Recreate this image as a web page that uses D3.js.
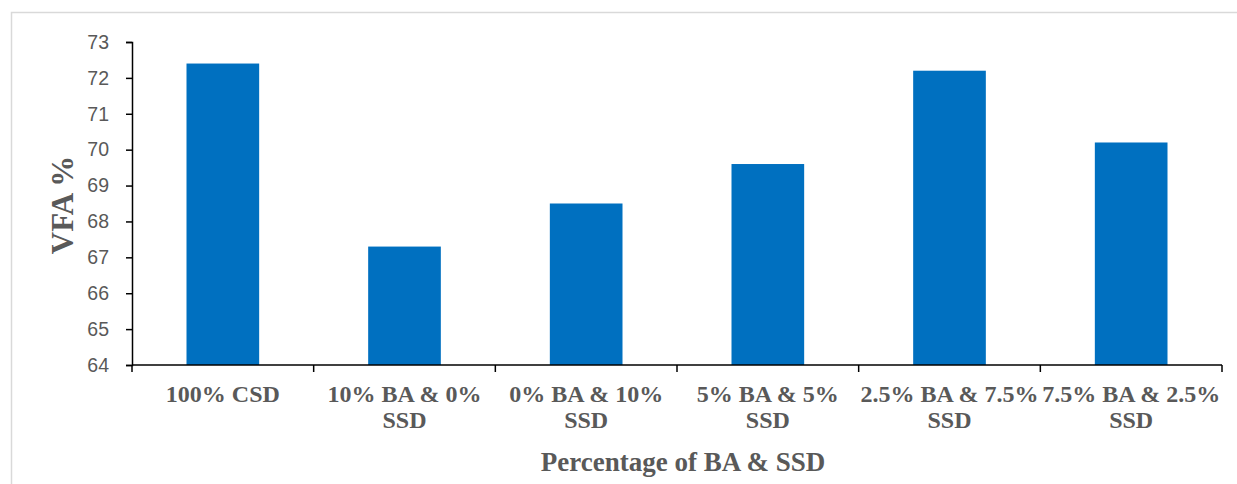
<!DOCTYPE html>
<html>
<head>
<meta charset="utf-8">
<script src="https://cdn.jsdelivr.net/npm/d3@7"></script>
<style>
  html, body { margin: 0; padding: 0; background: #fff; }
  svg { display: block; }
</style>
</head>
<body>
<svg id="chart" width="1237" height="484"></svg>
<script>
// Mix designs on the x axis (each entry holds the label lines)
const categories = [
  ["100% CSD"],
  ["10% BA & 0%", "SSD"],
  ["0% BA & 10%", "SSD"],
  ["5% BA & 5%", "SSD"],
  ["2.5% BA & 7.5%", "SSD"],
  ["7.5% BA & 2.5%", "SSD"]
];
// VFA (%) per mix
const vfaValues = [72.4, 67.3, 68.5, 69.6, 72.2, 70.2];
// Y axis ticks
const yTicks = [64, 65, 66, 67, 68, 69, 70, 71, 72, 73];
const yTitle = "VFA %";
const xTitle = "Percentage of BA & SSD";

const svg = d3.select("#chart");
const margin = { left: 132, right: 15, top: 42, bottom: 119 };
const W = 1237, H = 484;

// outer frame
svg.append("rect")
  .attr("x", 11.5).attr("y", 12.5)
  .attr("width", 1240).attr("height", 490)
  .attr("fill", "#fff").attr("stroke", "#d9d9d9").attr("stroke-width", 1.5);

const keys = categories.map(c => c.join(" "));
const x = d3.scaleBand()
  .domain(keys)
  .range([margin.left, W - margin.right])
  .paddingInner(0.6)
  .paddingOuter(0.3);

const y = d3.scaleLinear()
  .domain([64, 73])
  .range([H - margin.bottom, margin.top]);

// bars
svg.append("g").selectAll("rect")
  .data(vfaValues)
  .join("rect")
  .attr("x", (d, i) => x(keys[i]))
  .attr("y", d => y(d))
  .attr("width", x.bandwidth())
  .attr("height", d => y(64) - y(d))
  .attr("fill", "#0070C0");

// y axis
const yAxis = svg.append("g")
  .attr("transform", `translate(${margin.left},0)`)
  .call(d3.axisLeft(y).tickValues(yTicks).tickSize(6).tickPadding(17).tickSizeOuter(6));
yAxis.select(".domain").attr("stroke", "#000").attr("stroke-width", 1.5);
yAxis.selectAll(".tick line").attr("stroke", "#000").attr("stroke-width", 1.5);
yAxis.selectAll(".tick text")
  .attr("font-family", "'Liberation Sans', Arial, sans-serif")
  .attr("font-size", 19.5)
  .attr("fill", "#595959");

// x axis baseline with boundary ticks between categories
const step = x.step();
const boundaries = d3.range(categories.length + 1).map(i => margin.left + i * step);
const xAxisG = svg.append("g");
xAxisG.append("line")
  .attr("x1", margin.left).attr("x2", boundaries[boundaries.length - 1])
  .attr("y1", y(64)).attr("y2", y(64))
  .attr("stroke", "#000").attr("stroke-width", 1.5);
xAxisG.selectAll("line.tk")
  .data(boundaries)
  .join("line")
  .attr("class", "tk")
  .attr("x1", d => d).attr("x2", d => d)
  .attr("y1", y(64)).attr("y2", y(64) + 7)
  .attr("stroke", "#000").attr("stroke-width", 1.5);

// category labels
const labels = svg.append("g")
  .attr("font-family", "'Liberation Serif', 'Times New Roman', serif")
  .attr("font-weight", "bold")
  .attr("font-size", 24)
  .attr("fill", "#595959")
  .attr("text-anchor", "middle");
categories.forEach((lines, i) => {
  const cx = x(keys[i]) + x.bandwidth() / 2;
  const t = labels.append("text").attr("x", cx).attr("y", 402);
  lines.forEach((ln, j) => {
    t.append("tspan").attr("x", cx).attr("dy", j === 0 ? 0 : 26).text(ln);
  });
});

// axis titles
svg.append("text")
  .attr("x", 683).attr("y", 471)
  .attr("text-anchor", "middle")
  .attr("font-family", "'Liberation Serif', 'Times New Roman', serif")
  .attr("font-weight", "bold")
  .attr("font-size", 27)
  .attr("fill", "#595959")
  .text(xTitle);

svg.append("text")
  .attr("transform", "translate(73,205) rotate(-90)")
  .attr("text-anchor", "middle")
  .attr("font-family", "'Liberation Serif', 'Times New Roman', serif")
  .attr("font-weight", "bold")
  .attr("font-size", 31)
  .attr("fill", "#595959")
  .text(yTitle);
</script>
</body>
</html>
